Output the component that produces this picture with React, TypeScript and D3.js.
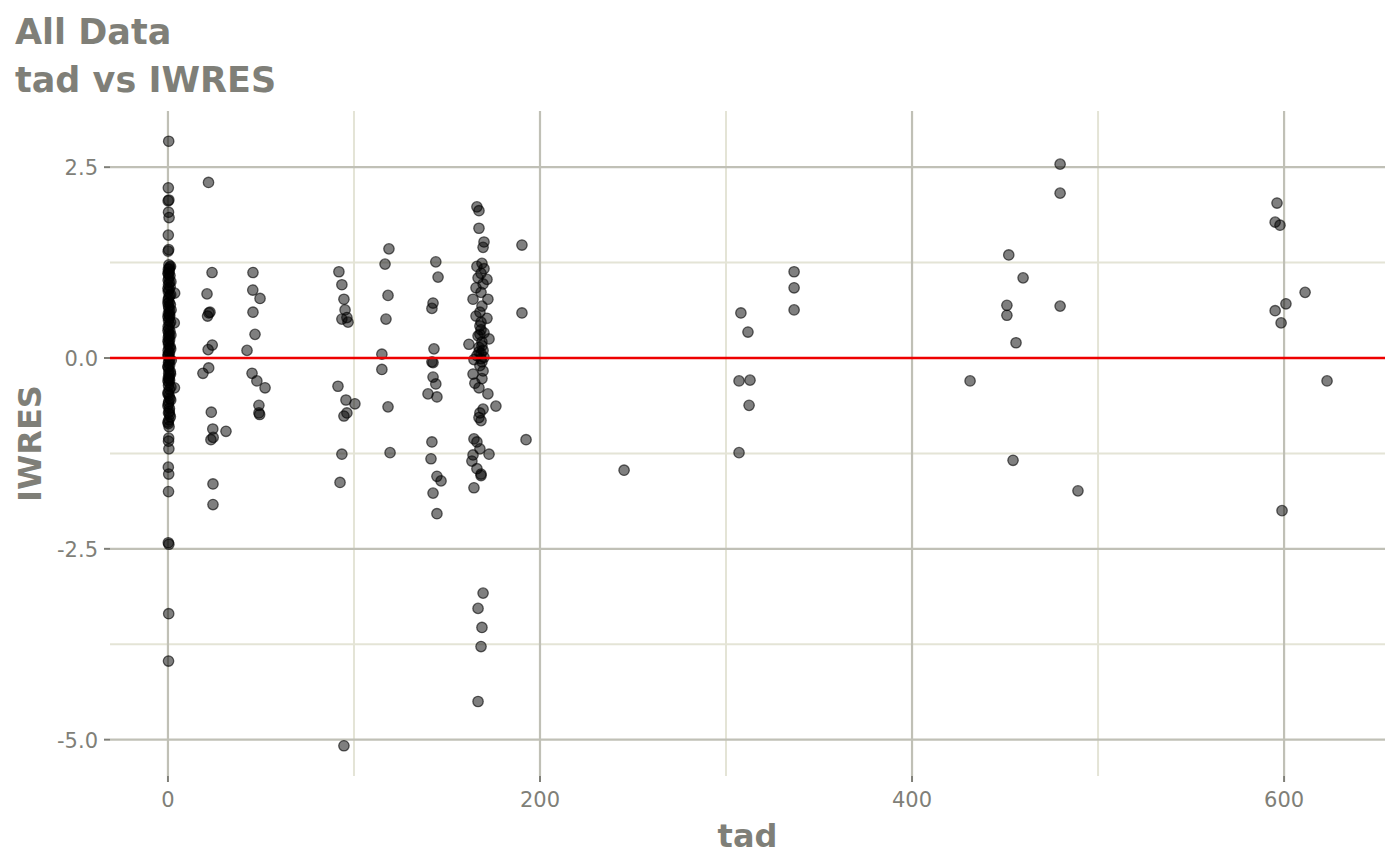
import React from "react";
import * as d3 from "d3";

// ---- data: [tad, IWRES] pairs, grouped by time-after-dose window ----
const cluster0: [number, number][] = [
  [0.4, 2.84], [0.2, 2.23], [0.5, 2.07], [0.1, 2.06], [0.3, 1.91], [0.6, 1.84], [0.2, 1.61], [0.4, 1.42], [0.1, 1.4],
  [0.5, 1.22], [0.9, 1.19], [0.2, 1.16], [0.7, 1.13], [0.3, 1.1], [1.1, 1.08], [0.5, 1.05], [0.1, 1.02], [0.8, 0.99],
  [0.3, 0.96], [1.2, 0.93], [0.6, 0.9], [0.2, 0.87], [3.6, 0.85], [0.9, 0.82], [0.4, 0.79], [0.1, 0.76], [0.7, 0.73],
  [1.3, 0.7], [0.3, 0.68], [0.5, 0.65], [0.9, 0.61], [0.2, 0.58], [1.0, 0.55], [0.6, 0.52], [0.3, 0.49], [3.4, 0.46],
  [0.8, 0.44], [0.1, 0.41], [0.5, 0.38], [1.1, 0.35], [0.4, 0.32], [0.7, 0.29], [0.2, 0.27], [0.9, 0.24], [0.5, 0.21],
  [0.3, 0.18], [1.2, 0.15], [0.6, 0.13], [0.1, 0.1], [0.8, 0.07], [0.4, 0.05], [0.2, 0.02], [1.0, -0.01], [0.6, -0.04],
  [0.3, -0.06], [0.9, -0.09], [0.1, -0.12], [0.5, -0.15], [1.3, -0.18], [0.4, -0.2], [0.7, -0.23], [0.2, -0.26],
  [0.9, -0.29], [0.5, -0.32], [3.5, -0.39], [0.3, -0.36], [0.8, -0.41], [0.1, -0.45], [0.6, -0.49], [1.0, -0.53],
  [0.4, -0.57], [0.2, -0.6], [0.7, -0.7], [0.3, -0.72], [0.9, -0.74], [0.5, -0.81], [0.2, -0.86], [0.6, -0.9],
  [0.4, -1.05], [0.3, -1.09], [0.5, -1.19], [0.2, -1.43], [0.4, -1.52], [0.3, -1.75], [0.2, -2.42], [0.5, -2.44],
  [0.4, -3.35], [0.3, -3.97],
  [1.4, 1.2], [0.0, 1.11], [1.6, 1.0], [0.0, 0.91], [1.5, 0.83], [0.0, 0.72], [1.7, 0.63], [0.0, 0.54],
  [1.4, 0.47], [0.0, 0.36], [1.6, 0.3], [0.0, 0.22], [1.5, 0.12], [0.0, 0.04], [1.8, -0.03], [0.0, -0.11],
  [1.4, -0.21], [0.0, -0.3], [1.6, -0.38], [0.0, -0.47], [1.5, -0.55], [0.0, -0.63], [1.3, -0.77], [0.0, -0.84],
  [0.7, 1.17], [0.8, 0.57], [0.6, -0.27], [0.8, -0.66],
];
const cluster24: [number, number][] = [
  [21.8, 2.3], [23.7, 1.12], [21.0, 0.84], [22.0, 0.59], [22.6, 0.6], [21.3, 0.55], [23.8, 0.17], [21.6, 0.11],
  [18.8, -0.2], [21.9, -0.13], [23.3, -0.71], [24.1, -0.93], [23.1, -1.07], [24.3, -1.04], [31.2, -0.96],
  [24.2, -1.65], [24.2, -1.92],
];
const cluster48: [number, number][] = [
  [45.7, 1.12], [45.6, 0.89], [49.5, 0.78], [45.7, 0.6], [46.8, 0.31], [42.5, 0.1], [45.2, -0.2], [47.8, -0.3],
  [52.2, -0.39], [48.9, -0.62], [48.9, -0.72], [49.3, -0.74],
];
const cluster96: [number, number][] = [
  [91.9, 1.13], [93.5, 0.96], [94.6, 0.77], [95.2, 0.63], [93.5, 0.51], [96.2, 0.53], [96.8, 0.47],
  [91.4, -0.37], [95.7, -0.55], [100.5, -0.6], [96.2, -0.72], [94.6, -0.76], [93.5, -1.26], [92.5, -1.63],
  [94.6, -5.08],
];
const cluster120: [number, number][] = [
  [118.8, 1.43], [116.7, 1.23], [118.3, 0.82], [117.2, 0.51], [115.0, 0.05], [115.0, -0.15], [118.3, -0.64],
  [119.4, -1.24],
];
const cluster144: [number, number][] = [
  [144.0, 1.26], [145.2, 1.06], [142.5, 0.72], [141.9, 0.65], [143.0, 0.12], [141.9, -0.05], [142.5, -0.06],
  [142.5, -0.25], [144.0, -0.34], [139.8, -0.47], [144.6, -0.51], [141.9, -1.1], [141.4, -1.32], [144.6, -1.55],
  [146.8, -1.61], [142.5, -1.77], [144.6, -2.04],
];
const cluster168: [number, number][] = [
  [166.1, 1.98], [167.2, 1.93], [167.2, 1.7], [169.9, 1.52], [169.4, 1.45], [168.8, 1.24], [166.1, 1.2],
  [169.9, 1.17], [168.3, 1.11], [171.5, 1.03], [166.7, 1.05], [169.4, 0.97], [165.6, 0.92], [172.0, 0.77],
  [164.0, 0.77], [168.8, 0.68], [165.6, 0.55], [171.5, 0.52], [167.7, 0.42], [168.3, 0.37], [169.9, 0.33],
  [166.7, 0.29], [172.6, 0.25], [161.8, 0.18], [168.8, 0.21], [167.2, 0.14], [169.4, 0.1], [168.3, 0.06],
  [166.1, 0.03], [169.9, 0.01], [164.5, -0.02], [168.8, -0.05], [167.7, -0.1], [164.0, -0.21], [169.4, -0.17],
  [165.0, -0.33], [167.2, -0.39], [172.0, -0.47], [176.3, -0.63], [169.4, -0.67], [167.7, -0.72], [168.3, -0.82],
  [167.2, -0.78], [164.5, -1.06], [166.1, -1.1], [167.7, -1.19], [172.6, -1.26], [164.0, -1.27], [163.4, -1.35],
  [166.1, -1.45], [168.3, -1.52], [168.3, -1.54], [164.5, -1.7], [169.4, -3.08], [166.7, -3.28], [168.8, -3.53],
  [168.3, -3.78], [166.7, -4.5],
  [168.3, 0.47], [167.7, 0.31], [168.8, 0.16], [167.2, 0.08], [168.3, -0.01], [168.8, -0.27], [167.7, 0.6],
  [168.3, 0.86],
];
const cluster192: [number, number][] = [
  [190.3, 1.48], [190.3, 0.59], [192.5, -1.07],
];
const clusterLate: [number, number][] = [
  [245.2, -1.47], [308.0, 0.59], [311.8, 0.34], [307.0, -0.3], [312.9, -0.29], [312.4, -0.62], [307.0, -1.24],
  [336.6, 1.13], [336.6, 0.92], [336.6, 0.63], [431.2, -0.3], [452.0, 1.35], [459.7, 1.05], [451.0, 0.69],
  [451.0, 0.56], [455.9, 0.2], [454.3, -1.34], [479.6, 2.54], [479.6, 2.16], [479.6, 0.68], [489.2, -1.74],
  [596.2, 2.03], [595.2, 1.78], [597.8, 1.74], [611.3, 0.86], [601.0, 0.71], [595.2, 0.62], [598.4, 0.46],
  [623.1, -0.3], [598.9, -2.0],
];

const xMajor = [0, 200, 400, 600];
const xMinor = [100, 300, 500];
const yMajor = [2.5, 0, -2.5, -5];
const yMinor = [1.25, -1.25, -3.75];

const allPoints = [
  ...cluster0, ...cluster24, ...cluster48, ...cluster96, ...cluster120,
  ...cluster144, ...cluster168, ...cluster192, ...clusterLate,
];

export default function App() {
  const W = 1400, H = 865;
  const left = 110, right = 1385, top = 111, bottom = 776;

  const xExt = d3.extent(allPoints, (d) => d[0]) as [number, number];
  const yExt = d3.extent(allPoints, (d) => d[1]) as [number, number];
  const xPad = (xExt[1] - xExt[0]) * 0.05;
  const yPad = (yExt[1] - yExt[0]) * 0.05;
  const x = d3.scaleLinear().domain([xExt[0] - xPad, xExt[1] + xPad]).range([left, right]);
  const y = d3.scaleLinear().domain([yExt[0] - yPad, yExt[1] + yPad]).range([bottom, top]);

  const majorCol = "#c0c0b6";
  const minorCol = "#e4e4d6";
  const textCol = "#7f7f78";
  const font = "'DejaVu Sans', sans-serif";

  return (
    <svg width={W} height={H} style={{ position: "absolute", left: 0, top: 0, background: "#fff" }}>
      {/* minor grid */}
      {xMinor.map((v) => (
        <line key={"xm" + v} x1={x(v)} x2={x(v)} y1={top} y2={bottom} stroke={minorCol} strokeWidth={2} />
      ))}
      {yMinor.map((v) => (
        <line key={"ym" + v} x1={left} x2={right} y1={y(v)} y2={y(v)} stroke={minorCol} strokeWidth={2} />
      ))}
      {/* major grid */}
      {xMajor.map((v) => (
        <line key={"xM" + v} x1={x(v)} x2={x(v)} y1={top} y2={bottom} stroke={majorCol} strokeWidth={2.2} />
      ))}
      {yMajor.map((v) => (
        <line key={"yM" + v} x1={left} x2={right} y1={y(v)} y2={y(v)} stroke={majorCol} strokeWidth={2.2} />
      ))}
      {/* points */}
      {allPoints.map((d, i) => (
        <circle key={i} cx={x(d[0])} cy={y(d[1])} r={5.2} fill="rgba(0,0,0,0.5)" stroke="rgba(0,0,0,0.6)" strokeWidth={1.3} />
      ))}
      {/* zero line */}
      <line x1={left} x2={right} y1={y(0)} y2={y(0)} stroke="#ee0000" strokeWidth={2.4} />
      {/* ticks */}
      {xMajor.map((v) => (
        <g key={"xt" + v}>
          <line x1={x(v)} x2={x(v)} y1={bottom} y2={bottom + 6} stroke={textCol} strokeWidth={2} />
          <text x={x(v)} y={bottom + 31} textAnchor="middle" fontFamily={font} fontSize={21} fill={textCol}>{d3.format("d")(v)}</text>
        </g>
      ))}
      {yMajor.map((v) => (
        <g key={"yt" + v}>
          <line x1={left - 6} x2={left} y1={y(v)} y2={y(v)} stroke={textCol} strokeWidth={2} />
          <text x={left - 12} y={y(v) + 8} textAnchor="end" fontFamily={font} fontSize={21} fill={textCol}>{d3.format(".1f")(v).replace("−", "-")}</text>
        </g>
      ))}
      {/* axis titles */}
      <text x={(left + right) / 2} y={847} textAnchor="middle" fontFamily={font} fontWeight="bold" fontSize={32} fill={textCol}>tad</text>
      <text transform={`translate(41, ${(top + bottom) / 2}) rotate(-90)`} textAnchor="middle" fontFamily={font} fontWeight="bold" fontSize={32} fill={textCol}>IWRES</text>
      {/* titles */}
      <text x={15} y={44} fontFamily={font} fontWeight="bold" fontSize={35} fill={textCol}>All Data</text>
      <text x={15} y={92} fontFamily={font} fontWeight="bold" fontSize={35} fill={textCol}>tad vs IWRES</text>
    </svg>
  );
}
